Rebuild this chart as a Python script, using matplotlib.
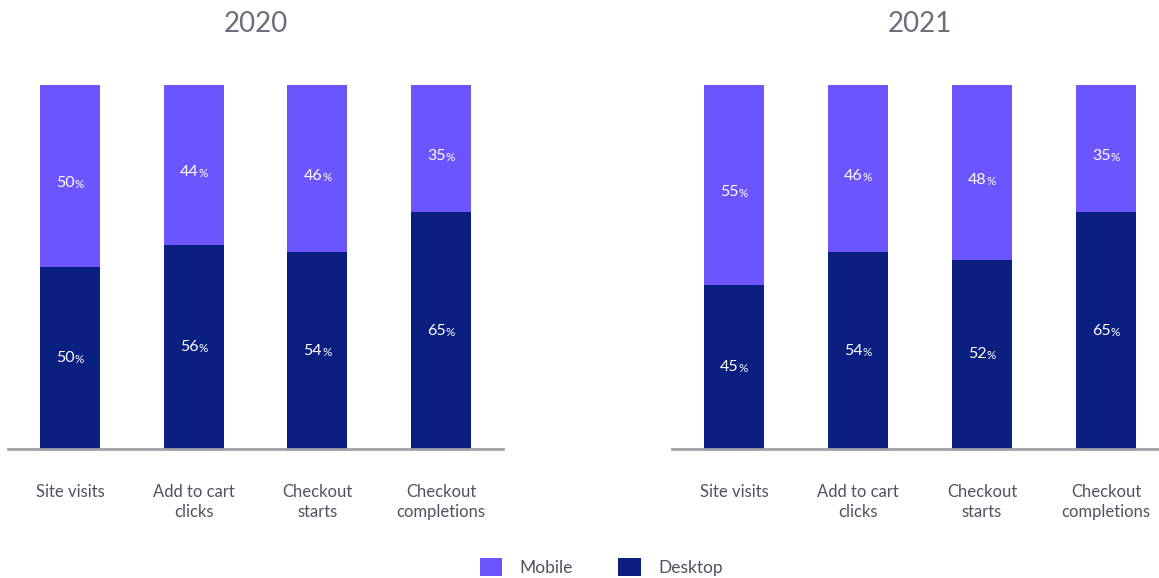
import matplotlib
matplotlib.use("Agg")
import matplotlib.pyplot as plt
from matplotlib.patches import Patch

plt.rcParams['font.family'] = ['Lato', 'DejaVu Sans']

categories = ["Site visits", "Add to cart\nclicks", "Checkout\nstarts", "Checkout\ncompletions"]
years = ["2020", "2021"]
desktop = {"2020": [50, 56, 54, 65], "2021": [45, 54, 52, 65]}
mobile = {"2020": [50, 44, 46, 35], "2021": [55, 46, 48, 35]}

C_MOBILE = "#6B55FE"
C_DESKTOP = "#0A1F80"
C_AXIS = "#A0A1A8"
C_TEXT = "#4F5261"
C_TITLE = "#6B6E7B"

W, H = 1159, 578
fig = plt.figure(figsize=(W / 100, H / 100), dpi=100)

axes_px = [(8, 503), (672, 1168)]
top_px, bot_px = 85, 449


def pct_label(ax, x, y, val):
    ax.annotate(f"{val}", (x, y), xytext=(3.5, 0), textcoords="offset points",
                ha="right", va="center", color="white", fontsize=11.5)
    ax.annotate("%", (x, y), xytext=(3.5, -1), textcoords="offset points",
                ha="left", va="center", color="white", fontsize=8.5)


for (x0, x1), yr in zip(axes_px, years):
    ax = fig.add_axes([x0 / W, (H - bot_px) / H, (x1 - x0) / W, (bot_px - top_px) / H])
    xs = list(range(len(categories)))
    d = desktop[yr]
    m = mobile[yr]
    ax.bar(xs, d, width=0.485, color=C_DESKTOP, zorder=2)
    ax.bar(xs, m, width=0.485, bottom=d, color=C_MOBILE, zorder=2)
    for i in xs:
        pct_label(ax, i, d[i] / 2, d[i])
        pct_label(ax, i, d[i] + m[i] / 2 - 2, m[i])
    ax.set_xlim(-0.5, 3.5)
    ax.set_ylim(0, 100)
    for s in ["top", "right", "left"]:
        ax.spines[s].set_visible(False)
    ax.spines["bottom"].set_color(C_AXIS)
    ax.spines["bottom"].set_linewidth(2)
    ax.spines["bottom"].set_zorder(3)
    ax.set_yticks([])
    ax.set_xticks(xs)
    ax.set_xticklabels(categories, color=C_TEXT, fontsize=12, linespacing=1.35)
    ax.tick_params(axis="x", length=0, pad=25)
    ax.set_title(yr, color=C_TITLE, fontsize=20, pad=38)

handles = [Patch(facecolor=C_MOBILE, label="Mobile"), Patch(facecolor=C_DESKTOP, label="Desktop")]
leg = fig.legend(handles=handles, loc="center", bbox_to_anchor=(601 / W, 1 - 567 / H), ncol=2,
                 frameon=False, fontsize=12.5, handlelength=1.3, handleheight=1.3,
                 columnspacing=2.6, handletextpad=1.0)
for t in leg.get_texts():
    t.set_color(C_TEXT)

fig.savefig("out.png", dpi=100)
